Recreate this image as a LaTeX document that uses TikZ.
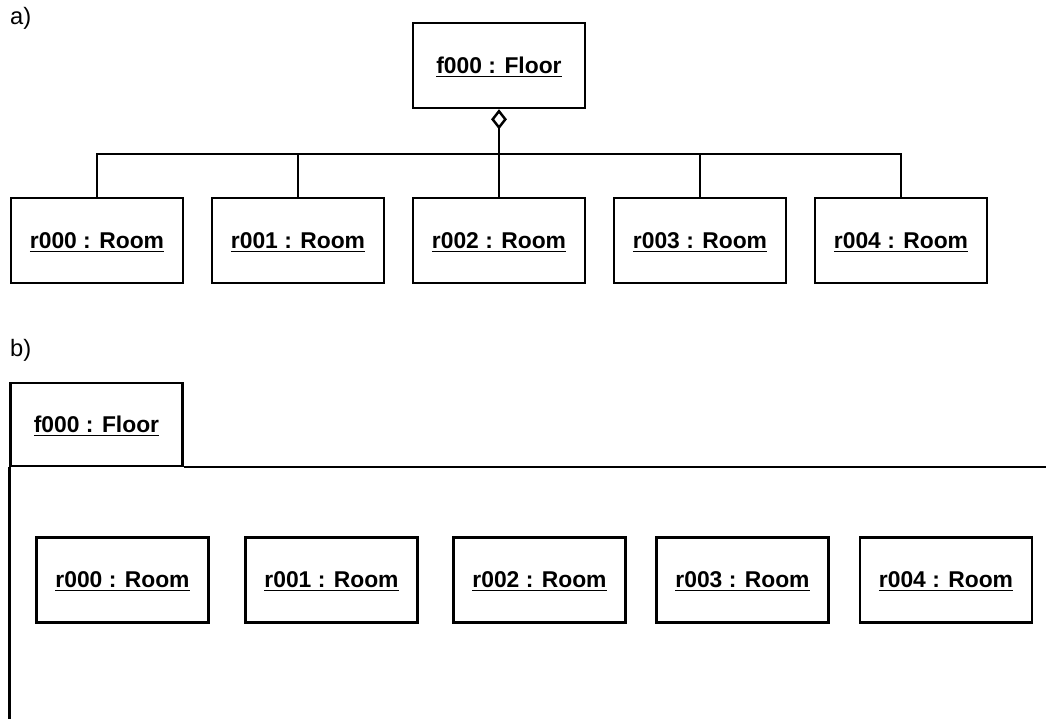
\documentclass[tikz,border=0pt]{standalone}
\usepackage{fontspec}
\setmainfont{Liberation Sans}
\usetikzlibrary{arrows.meta}
\tikzset{obj/.style={draw,line width=1.4pt,minimum width=3.44cm,minimum height=1.7cm,text depth=0pt,font=\fontsize{13}{15}\selectfont\bfseries},
lbl/.style={inner sep=0pt,anchor=west,font=\fontsize{13.5}{15}\selectfont}}
\begin{document}
\begin{tikzpicture}[x=0.02cm,y=-0.02cm,line width=1.4pt]
\useasboundingbox (0,0) rectangle (1046,719);
\node[lbl] (la) at (9,18) {a)};
\node[lbl] (lb) at (9,350) {b)};
% a) floor with its rooms
\node[obj] (floor) at (499,65.5) {\underline{f000 : Floor}};
\coordinate (bus) at (499,154);
\draw[{Diamond[open,length=11.5pt,width=9pt]}-] (floor.south) -- (bus);
\foreach \i/\x in {0/97,1/298,2/499,3/700,4/901}{
\node[obj] (ra\i) at (\x,240.5) {\underline{r00\i\ : Room}};
\draw (bus) -| (ra\i.north);
}
% b) floor as frame
\node[obj,minimum height=1.66cm] (tab) at (96.5,424.5) {\underline{f000 : Floor}};
\coordinate (fbot) at (tab.south west |- 0,725);
\coordinate (fright) at (1050,0 |- tab.south east);
\draw (tab.south west) -- (fbot);
\draw (tab.south east) -- (fright);
\foreach \i/\x in {0/122.5,1/331.5,2/539.5,3/742.5,4/946}{
\node[obj] (rb\i) at (\x,580) {\underline{r00\i\ : Room}};
}
\end{tikzpicture}
\end{document}
